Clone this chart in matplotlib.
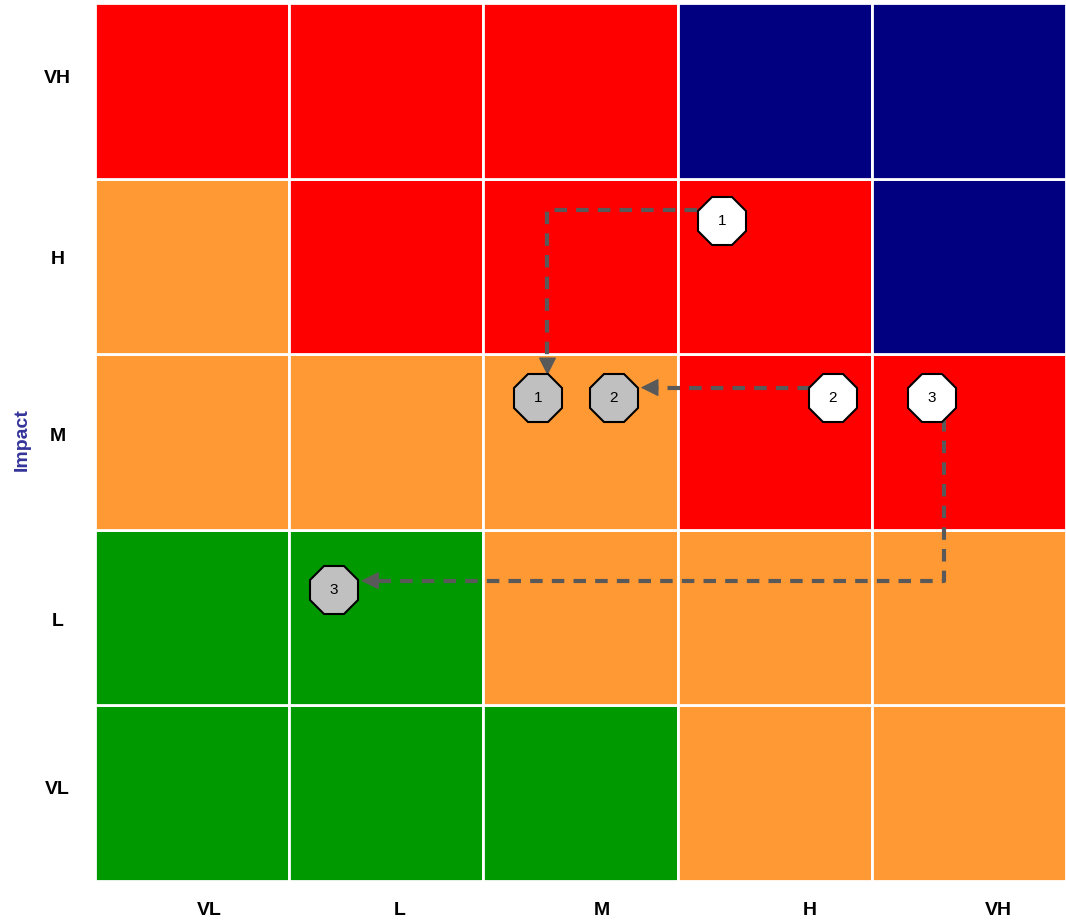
import matplotlib
matplotlib.use('Agg')
import matplotlib.pyplot as plt
import numpy as np

# grid levels (columns = likelihood, rows = impact, bottom to top)
LEVELS = ['VL', 'L', 'M', 'H', 'VH']
x_label_pos = [0.59, 1.57, 2.61, 3.68, 4.65]
y_label_pos = [0.53, 1.49, 2.54, 3.55, 4.58]

RED, NAVY, ORANGE, GREEN = '#FF0000', '#000080', '#FF9933', '#009900'

# cell colours, row 0 = VL (bottom) ... row 4 = VH (top)
cell_colors = [
    [GREEN, GREEN, GREEN, ORANGE, ORANGE],
    [GREEN, GREEN, ORANGE, ORANGE, ORANGE],
    [ORANGE, ORANGE, ORANGE, RED, RED],
    [ORANGE, RED, RED, RED, NAVY],
    [RED, RED, RED, NAVY, NAVY],
]

# risk ids with current (inherent) and target (residual) positions in grid units
risk_ids = ['1', '2', '3']
current_x = [3.23, 3.80, 4.31]
current_y = [3.76, 2.75, 2.75]
target_x = [2.28, 2.67, 1.23]
target_y = [2.75, 2.75, 1.66]

# movement paths (grid units)
path_x = [[3.10, 2.33, 2.33], [3.68, 2.81], [4.37, 4.37, 1.37]]
path_y = [[3.82, 3.82, 2.88], [2.81, 2.81], [2.63, 1.71, 1.71]]

LINE = '#595959'
plt.rcParams['font.family'] = ['Liberation Sans', 'DejaVu Sans']

fig = plt.figure(figsize=(10.66, 9.22), dpi=100)
ax = fig.add_axes([95 / 1066, 41 / 922, 971 / 1066, 878 / 922])

for r in range(5):
    for c in range(5):
        ax.add_patch(plt.Rectangle((c, r), 1, 1, facecolor=cell_colors[r][c],
                                   edgecolor='white', linewidth=2))

for px, py in zip(path_x, path_y):
    # stop the dashed line where the arrow head begins
    xs, ys = list(px), list(py)
    dx = np.sign(xs[-1] - xs[-2]) * 0.07
    dy = np.sign(ys[-1] - ys[-2]) * 0.08
    xs[-1] -= dx
    ys[-1] -= dy
    ax.plot(xs, ys, color=LINE, linewidth=3, linestyle=(0, (3, 2.2)), zorder=3)
    ax.annotate('', xy=(px[-1], py[-1]), xytext=(xs[-1], ys[-1]),
                arrowprops=dict(arrowstyle='-|>,head_length=0.8,head_width=0.4',
                                mutation_scale=14, color=LINE, lw=1,
                                shrinkA=0, shrinkB=0),
                zorder=4)

ax.plot(current_x, current_y, linestyle='none', marker='8', markersize=37,
        markerfacecolor='white', markeredgecolor='black', markeredgewidth=1.5, zorder=5)
ax.plot(target_x, target_y, linestyle='none', marker='8', markersize=37,
        markerfacecolor='#C0C0C0', markeredgecolor='black', markeredgewidth=1.5, zorder=5)
for i, rid in enumerate(risk_ids):
    ax.text(current_x[i], current_y[i], rid, ha='center', va='center',
            fontsize=11, zorder=6)
    ax.text(target_x[i], target_y[i], rid, ha='center', va='center',
            fontsize=11, zorder=6)

ax.set_xlim(0, 5)
ax.set_ylim(0, 5)
ax.set_xticks(x_label_pos)
ax.set_yticks(y_label_pos)
ax.set_xticklabels(LEVELS, fontsize=14, fontweight='bold')
ax.set_yticklabels(LEVELS, fontsize=14, fontweight='bold', ha='center')
ax.tick_params(length=0)
ax.tick_params(axis='x', pad=15)
ax.tick_params(axis='y', pad=27)
for s in ax.spines.values():
    s.set_visible(False)

fig.text(22 / 1066, 1 - 440 / 922, 'Impact', rotation=90, ha='center', va='center',
         fontsize=14, fontweight='bold', color='#333399')

fig.savefig('out.png', dpi=100)
